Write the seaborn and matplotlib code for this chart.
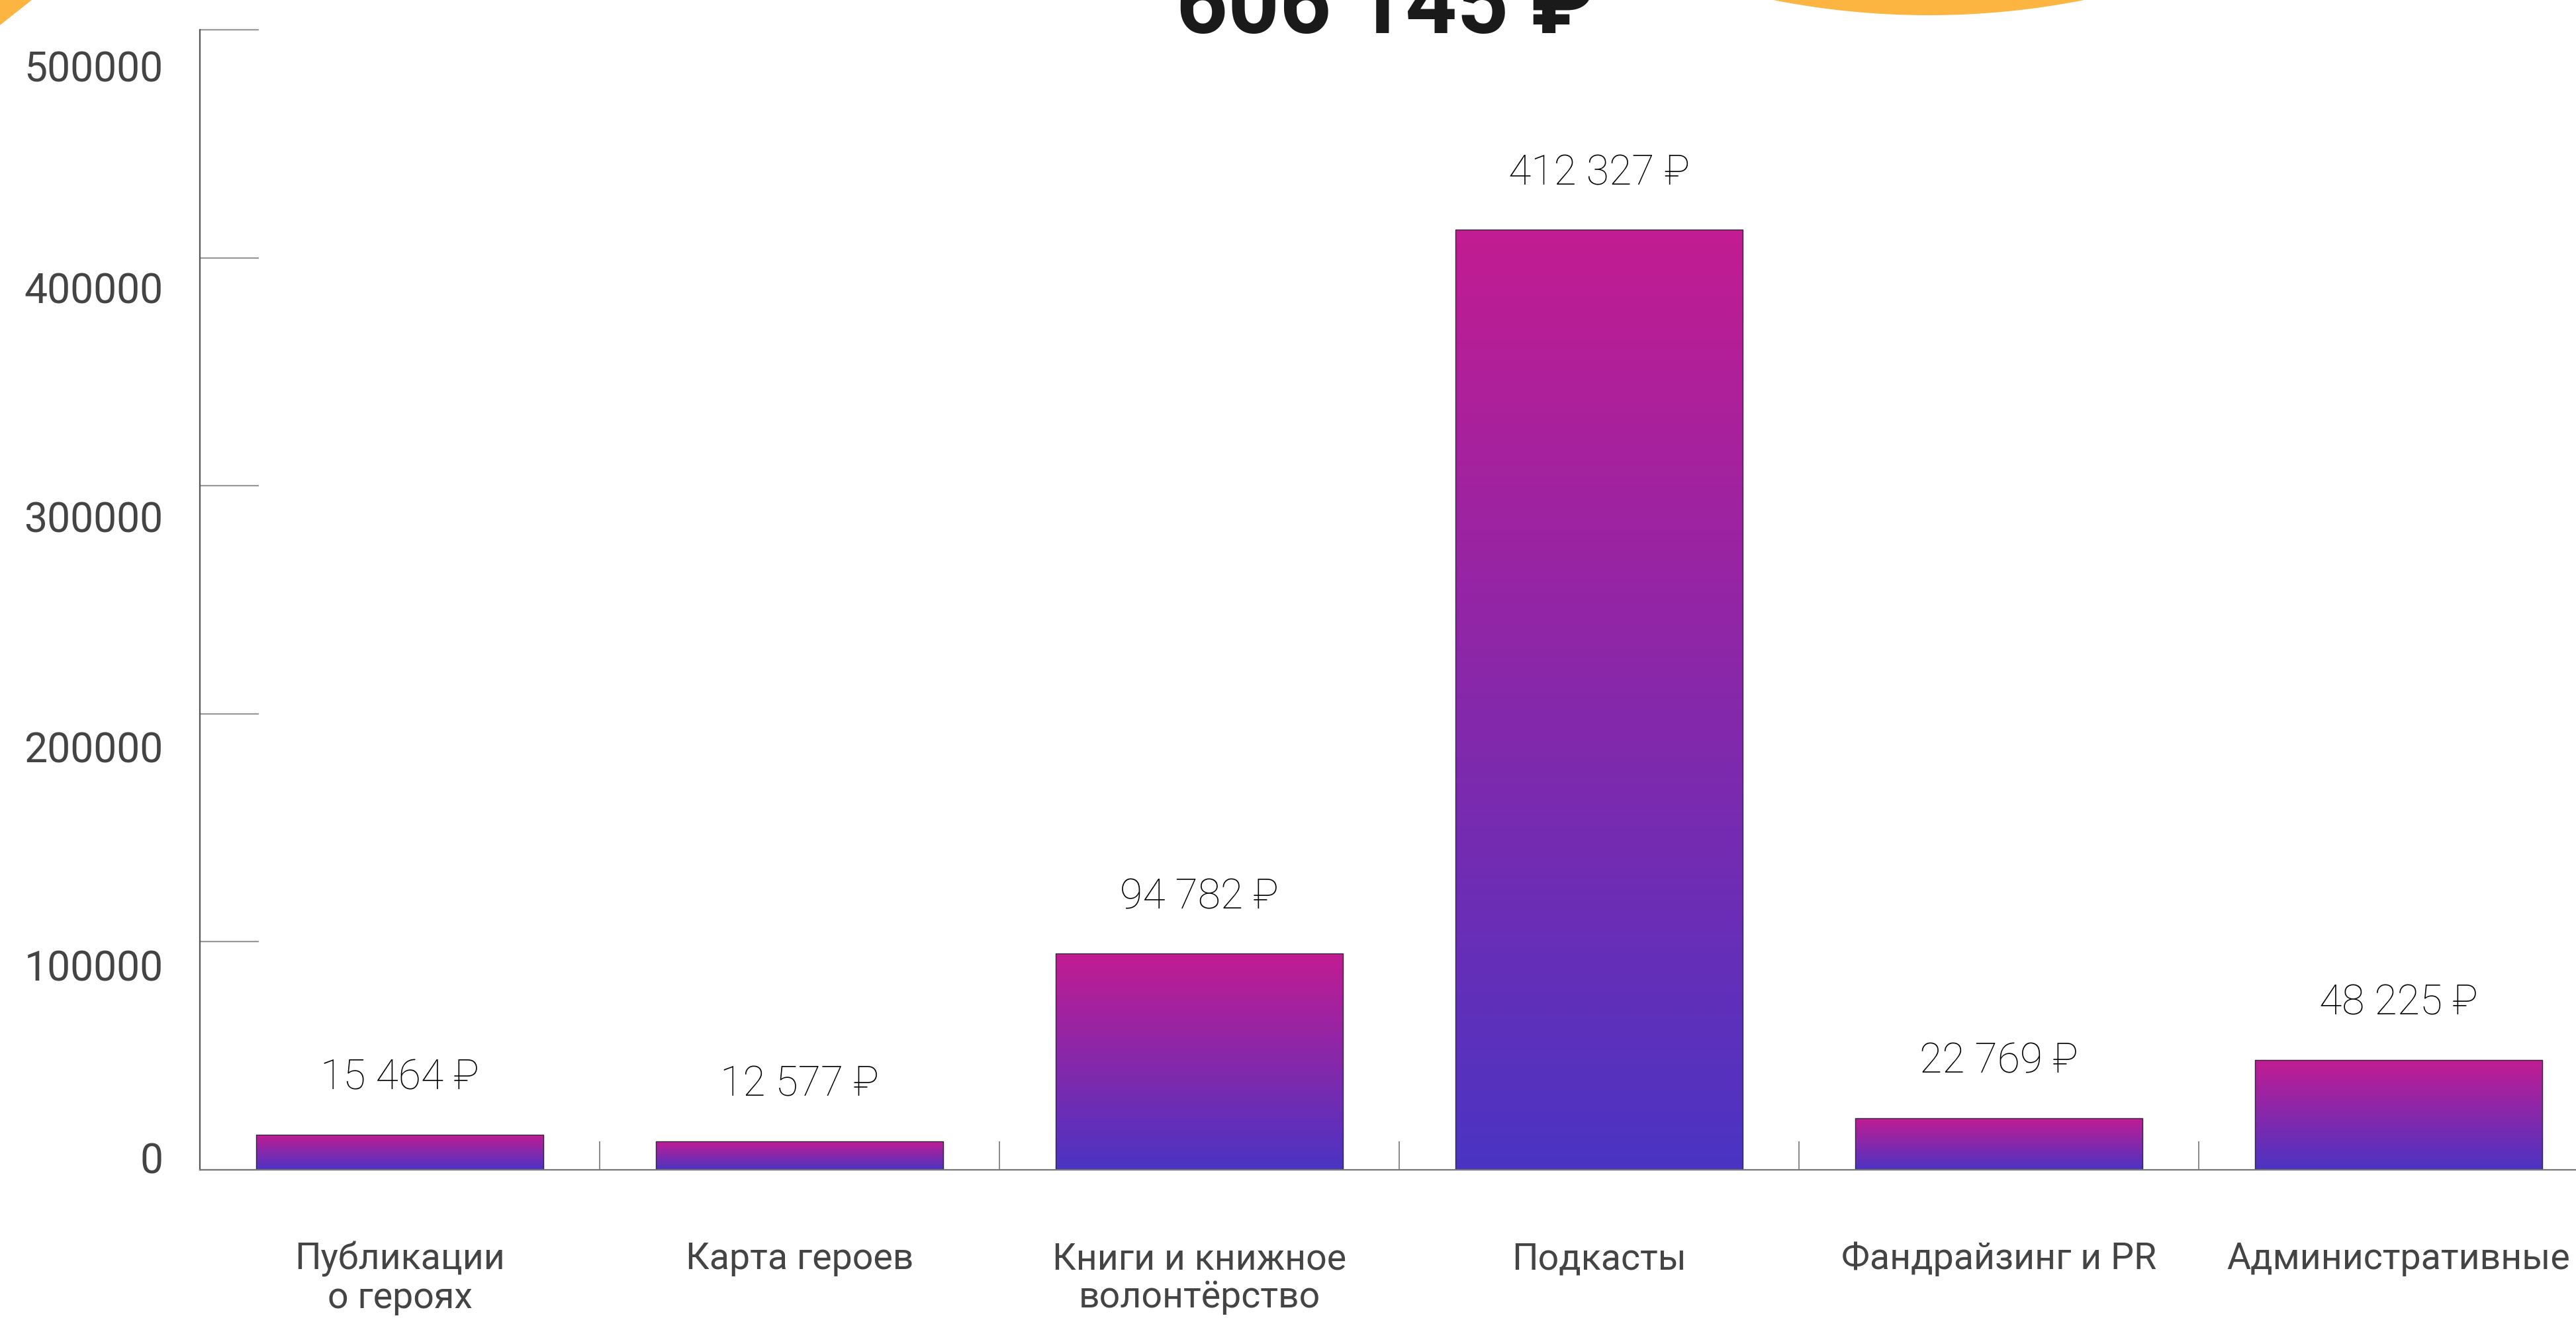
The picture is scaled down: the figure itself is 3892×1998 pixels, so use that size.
import numpy as np
import pandas as pd
import matplotlib
matplotlib.use("Agg")
import matplotlib.pyplot as plt
import matplotlib.transforms as mtransforms
from matplotlib.colors import LinearSegmentedColormap
from matplotlib.patches import Polygon, Ellipse
import seaborn as sns

# ---- data ----
categories = ["Публикации\nо героях", "Карта героев", "Книги и книжное\nволонтёрство",
              "Подкасты", "Фандрайзинг и PR", "Административные"]
values = [15464, 12577, 94782, 412327, 22769, 48225]
total_label = "606 145 ₽"
y_ticks = [0, 100000, 200000, 300000, 400000, 500000]
y_tick_labels = ["0", "100000", "200000", "300000", "400000", "500000"]

sns.set_theme(style="white")
plt.rcParams["font.family"] = ["Roboto", "DejaVu Sans"]

W, H, DPI = 3892, 1998, 200
fig = plt.figure(figsize=(W / DPI, H / DPI), dpi=DPI)
fig.patch.set_facecolor("white")

# axes geometry (pixel-measured)
ax_left, ax_right = 302, 302 + 6 * 604
ax_top, ax_bottom = 45, 1768
ax = fig.add_axes([ax_left / W, 1 - ax_bottom / H, (ax_right - ax_left) / W, (ax_bottom - ax_top) / H])
ax.set_facecolor("none")

df = pd.DataFrame({"cat": categories, "val": values})
sns.barplot(data=df, x="cat", y="val", ax=ax, width=0.72, color="#8628AA",
            edgecolor="#2a2a3a", linewidth=0.5, saturation=1)

cmap = LinearSegmentedColormap.from_list("grad", ["#4B34C3", "#C21C92"])
grad = np.linspace(0, 1, 256).reshape(-1, 1)
for p in ax.patches:
    x0, y0, w, h = p.get_x(), p.get_y(), p.get_width(), p.get_height()
    im = ax.imshow(grad, cmap=cmap, origin="lower", aspect="auto",
                   extent=[x0, x0 + w, y0, y0 + h], zorder=1, interpolation="bicubic")
    im.set_clip_path(p)
    p.set_facecolor("none")
    p.set_zorder(2)

ax.set_xlim(-0.5, 5.5)
ax.set_ylim(0, 500000)

# value labels
for i, v in enumerate(values):
    txt = f"{v:,}".replace(",", " ") + " ₽"
    ax.annotate(txt, (i, v), xytext=(0, 24.5), textcoords="offset points",
                ha="center", va="baseline", fontsize=22.5, fontweight="light",
                color="#000000")

# spines
for s in ["top", "right"]:
    ax.spines[s].set_visible(False)
ax.spines["left"].set_color("#555555")
ax.spines["left"].set_linewidth(0.8)
ax.spines["bottom"].set_color("#777777")
ax.spines["bottom"].set_linewidth(0.8)

# y ticks
ax.set_yticks(y_ticks)
ax.set_yticklabels(y_tick_labels)
ax.tick_params(axis="y", direction="in", length=32, width=0.8, color="#999999",
               labelsize=22.5, labelcolor="#444444", pad=20, left=True)
y_label_offsets_px = [-18, 36, 50, 47, 45, 55]
for lab, off in zip(ax.get_yticklabels(), y_label_offsets_px):
    lab.set_transform(lab.get_transform() +
                      mtransforms.ScaledTranslation(0, -off / DPI, fig.dpi_scale_trans))

# x ticks
ax.set_xlabel("")
ax.set_ylabel("")
ax.set_xticks(range(len(categories)))
ax.set_xticklabels(categories, linespacing=1.12)
ax.tick_params(axis="x", which="major", length=0, labelsize=20, labelcolor="#444444", pad=39)
ax.set_xticks(np.arange(0.5, len(categories), 1.0), minor=True)
ax.tick_params(axis="x", which="minor", direction="in", length=15.5, width=0.6,
               color="#777777", bottom=True)

# title
fig.text(2093 / W, 1 - 50 / H, total_label, ha="center", va="baseline",
         fontsize=49, fontweight="bold", color="#1a1a1a")

# decorative shapes
tri = Polygon([(0, 1), (48 / W, 1), (0, 1 - 38 / H)], closed=True,
              transform=fig.transFigure, facecolor="#FBB540", edgecolor="none")
fig.patches.append(tri)
R = 1212
circ = Ellipse((2914 / W, 1 - (23 - R) / H), width=2 * R / W, height=2 * R / H,
               transform=fig.transFigure, facecolor="#FBB540", edgecolor="none")
fig.patches.append(circ)

fig.savefig("out.png", dpi=DPI, facecolor="white")
